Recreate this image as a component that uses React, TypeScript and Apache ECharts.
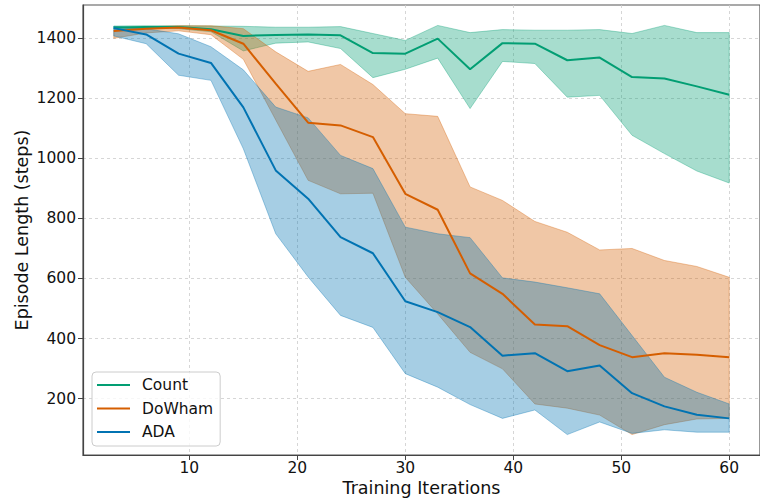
import React, { useEffect, useRef } from "react";
import * as echarts from "echarts";

// x positions (training iterations)
const iterations = [3, 6, 9, 12, 15, 18, 21, 24, 27, 30, 33, 36, 39, 42, 45, 48, 51, 54, 57, 60];

// Count
const countMean = [1436, 1438, 1438, 1430, 1408, 1411, 1413, 1410, 1351, 1349, 1399, 1297, 1384, 1382, 1327, 1336, 1271, 1266, 1240, 1212];
const countLow = [1430, 1433, 1432, 1422, 1358, 1384, 1388, 1366, 1269, 1297, 1334, 1166, 1323, 1316, 1204, 1210, 1077, 1016, 958, 918];
const countHigh = [1441, 1442, 1442, 1441, 1440, 1437, 1437, 1439, 1416, 1393, 1443, 1419, 1429, 1427, 1427, 1429, 1416, 1443, 1419, 1419];

// DoWham
const dowhamMean = [1424, 1432, 1436, 1427, 1382, 1249, 1119, 1110, 1071, 882, 829, 617, 549, 447, 441, 378, 338, 351, 346, 338];
const dowhamLow = [1400, 1418, 1425, 1412, 1330, 1128, 927, 882, 884, 604, 482, 354, 299, 182, 168, 145, 80, 113, 132, 134];
const dowhamHigh = [1428, 1438, 1442, 1442, 1432, 1355, 1290, 1313, 1246, 1149, 1140, 905, 860, 790, 754, 695, 700, 660, 640, 604];

// ADA
const adaMean = [1434, 1413, 1349, 1318, 1170, 960, 866, 738, 684, 524, 488, 438, 343, 351, 291, 310, 218, 174, 146, 134];
const adaLow = [1408, 1382, 1277, 1260, 1032, 749, 605, 477, 437, 283, 238, 180, 134, 162, 80, 122, 84, 96, 88, 88];
const adaHigh = [1440, 1432, 1415, 1372, 1295, 1171, 1135, 1010, 966, 771, 749, 736, 602, 588, 569, 549, 410, 271, 221, 182];

const xTicks = [10, 20, 30, 40, 50, 60];
const yTicks = [200, 400, 600, 800, 1000, 1200, 1400];

const FONT = "DejaVu Sans";

const methods = [
  { name: "Count", color: "#029e73", fill: "rgba(2,158,115,0.35)", mean: countMean, low: countLow, high: countHigh },
  { name: "DoWham", color: "#d55e00", fill: "rgba(213,94,0,0.35)", mean: dowhamMean, low: dowhamLow, high: dowhamHigh },
  { name: "ADA", color: "#0173b2", fill: "rgba(1,115,178,0.35)", mean: adaMean, low: adaLow, high: adaHigh },
];

export default function App() {
  const ref = useRef<HTMLDivElement>(null);

  useEffect(() => {
    if (!ref.current) return;
    const chart = echarts.init(ref.current, undefined, { renderer: "svg" });

    const series: any[] = [];
    methods.forEach((m) => {
      series.push({
        type: "line",
        name: m.name,
        data: iterations.map((x, i) => [x, m.mean[i]]),
        symbol: "none",
        color: m.color,
        lineStyle: { color: m.color, width: 2 },
        itemStyle: { color: m.color },
        silent: true,
      });
      series.push({
        type: "custom",
        name: m.name + " band",
        data: iterations.map((x, i) => [x, m.low[i], m.high[i]]),
        encode: { x: 0, y: [1, 2] },
        silent: true,
        renderItem: (params: any, api: any) => {
          if (params.dataIndex !== 0) return null;
          const pts: number[][] = [];
          for (let i = 0; i < iterations.length; i++) pts.push(api.coord([iterations[i], m.high[i]]));
          for (let i = iterations.length - 1; i >= 0; i--) pts.push(api.coord([iterations[i], m.low[i]]));
          return {
            type: "polygon",
            shape: { points: pts },
            style: { fill: m.fill, stroke: m.fill, lineWidth: 1 },
          };
        },
      });
    });

    chart.setOption({
      animation: false,
      backgroundColor: "#ffffff",
      grid: {
        left: 83,
        top: 5,
        width: 681,
        height: 450,
        show: true,
        borderColor: "#555",
        borderWidth: 1.2,
        containLabel: false,
      },
      xAxis: {
        type: "value",
        min: 0.15,
        max: 62.85,
        name: "Training Iterations",
        nameLocation: "middle",
        nameGap: 24,
        nameMoveOverlap: false,
        nameTextStyle: { fontSize: 17.5, color: "#111", fontFamily: FONT },
        axisLine: { show: true, lineStyle: { color: "#444", width: 1.2 } },
        axisTick: { show: true, length: 5, customValues: xTicks, lineStyle: { color: "#444", width: 1 } },
        axisLabel: {
          customValues: xTicks,
          fontSize: 15.5,
          color: "#111",
          fontFamily: FONT,
          margin: 5,
          formatter: (v: number) => String(v),
        },
        splitLine: { show: true, lineStyle: { color: "#cccccc", type: [3, 3], width: 0.8 } },
      },
      yAxis: {
        type: "value",
        min: 12,
        max: 1511,
        name: "Episode Length (steps)",
        nameLocation: "middle",
        nameGap: 52,
        nameMoveOverlap: false,
        nameTextStyle: { fontSize: 17.5, color: "#111", fontFamily: FONT },
        axisLine: { show: true, lineStyle: { color: "#444", width: 1.2 } },
        axisTick: { show: true, length: 5, customValues: yTicks, lineStyle: { color: "#444", width: 1 } },
        axisLabel: {
          customValues: yTicks,
          fontSize: 15.5,
          color: "#111",
          fontFamily: FONT,
          margin: 7,
          formatter: (v: number) => String(v),
        },
        splitLine: { show: true, lineStyle: { color: "#cccccc", type: [3, 3], width: 0.8 } },
      },
      legend: {
        orient: "vertical",
        left: 92,
        top: 372,
        data: methods.map((m) => ({ name: m.name, icon: "rect" })),
        itemWidth: 33,
        itemHeight: 2.2,
        itemGap: 7.5,
        padding: [5, 7, 6, 5],
        backgroundColor: "rgba(255,255,255,0.8)",
        borderColor: "#cccccc",
        borderWidth: 1,
        borderRadius: 4,
        selectedMode: false,
        textStyle: { fontSize: 15.5, color: "#111", fontFamily: FONT, lineHeight: 16, padding: [0, 0, 0, 7] },
      },
      series,
    });

    return () => chart.dispose();
  }, []);

  return (
    <div
      ref={ref}
      style={{ position: "fixed", left: 0, top: 0, width: 760, height: 502, background: "#fff" }}
    />
  );
}
